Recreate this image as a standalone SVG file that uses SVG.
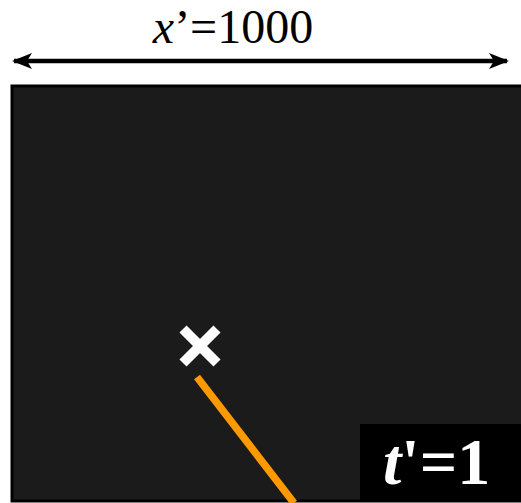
<svg xmlns="http://www.w3.org/2000/svg" width="521" height="503" viewBox="0 0 521 503">
<defs>
<style>
.lbl{font-family:"Liberation Serif","Times New Roman",serif;}
</style>
<marker id="ah" viewBox="0 0 20 16" refX="18" refY="8" markerWidth="20" markerHeight="16" markerUnits="userSpaceOnUse" orient="auto-start-reverse">
<path d="M0,0 L20,8 L0,16 L5,8 Z" fill="#000"/>
</marker>
</defs>
<rect width="521" height="503" fill="#fff"/>
<g id="frame">
<rect x="12" y="86" width="512" height="415" fill="#1b1b1b" stroke="#000" stroke-width="3"/>
</g>
<g id="connectors">
<line x1="14" y1="61" x2="507" y2="61" stroke="#000" stroke-width="4.5" marker-start="url(#ah)" marker-end="url(#ah)"/>
<line x1="197" y1="377" x2="294" y2="503" stroke="#ff9900" stroke-width="7.5"/>
</g>
<g id="width-label">
<text class="lbl" x="233" y="43" font-size="48" text-anchor="middle"><tspan font-style="italic">x</tspan>’=1000</text>
</g>
<g id="marker-x">
<path d="M183,329 L217,363 M217,329 L183,363" stroke="#fff" stroke-width="10"/>
</g>
<g id="time-label">
<rect x="360" y="424" width="161" height="77" fill="#000"/>
<text class="lbl" x="383" y="484" font-size="66" font-weight="bold" fill="#fff"><tspan font-style="italic">t</tspan>'=1</text>
</g>
</svg>
